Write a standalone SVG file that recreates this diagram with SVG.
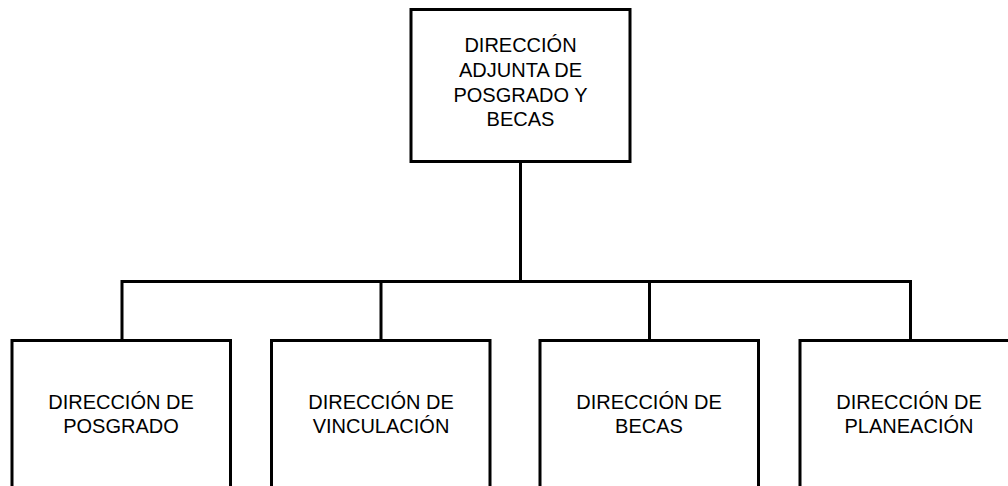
<svg xmlns="http://www.w3.org/2000/svg" width="1008" height="486" viewBox="0 0 1008 486">
<style>
.box{fill:#fff;stroke:#000;stroke-width:3}
.lbl{font-family:"Liberation Sans",Arial,sans-serif;font-size:20px;fill:#000;text-anchor:middle}
.con{stroke:#000;stroke-width:3;fill:none}
</style>
<rect width="1008" height="486" fill="#fff"/>
<g id="connectors">
<path class="con" d="M520.5 161 V281.5 M122 281.5 H910.5 M122 280 V340 M381 280 V340 M649.5 280 V340 M910.5 280 V340"/>
</g>
<g id="n0">
<rect class="box" x="411" y="9.5" width="219" height="152"/>
<text class="lbl" x="520.5"><tspan x="520.5" y="52">DIRECCIÓN</tspan><tspan x="520.5" y="77">ADJUNTA DE</tspan><tspan x="520.5" y="102">POSGRADO Y</tspan><tspan x="520.5" y="125.5">BECAS</tspan></text>
</g>
<g id="n1">
<rect class="box" x="12" y="340.5" width="218.5" height="170"/>
<text class="lbl"><tspan x="121" y="409">DIRECCIÓN DE</tspan><tspan x="121" y="433">POSGRADO</tspan></text>
</g>
<g id="n2">
<rect class="box" x="271.5" y="340.5" width="218.5" height="170"/>
<text class="lbl"><tspan x="381" y="409">DIRECCIÓN DE</tspan><tspan x="381" y="433">VINCULACIÓN</tspan></text>
</g>
<g id="n3">
<rect class="box" x="540" y="340.5" width="218.5" height="170"/>
<text class="lbl"><tspan x="649" y="409">DIRECCIÓN DE</tspan><tspan x="649" y="433">BECAS</tspan></text>
</g>
<g id="n4">
<rect class="box" x="800" y="340.5" width="218.5" height="170"/>
<text class="lbl"><tspan x="909" y="409">DIRECCIÓN DE</tspan><tspan x="909" y="433">PLANEACIÓN</tspan></text>
</g>
</svg>
